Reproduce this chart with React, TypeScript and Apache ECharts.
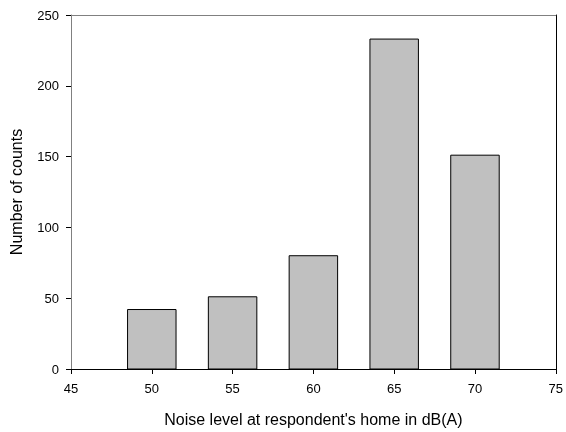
import React, { useEffect, useRef } from "react";
import * as echarts from "echarts";

const binCenters = [50, 55, 60, 65, 70];
const counts = [42, 51, 80, 233, 151];
const binWidth = 3;
const xTicks = [45, 50, 55, 60, 65, 70, 75];
const yTicks = [0, 50, 100, 150, 200, 250];

export default function App() {
  const ref = useRef<HTMLDivElement>(null);
  useEffect(() => {
    if (!ref.current) return;
    const chart = echarts.init(ref.current, undefined, { renderer: "svg" });
    const font = "Liberation Sans, Arial, sans-serif";
    chart.setOption({
      animation: false,
      grid: { left: 71, right: 8, top: 15, bottom: 62 },
      xAxis: [
        {
          type: "value",
          min: xTicks[0],
          max: xTicks[xTicks.length - 1],
          interval: 5,
          position: "bottom",
          name: "Noise level at respondent's home in dB(A)",
          nameLocation: "middle",
          nameGap: 42,
          nameTextStyle: { fontFamily: font, fontSize: 16, color: "#000" },
          axisLine: { show: true, lineStyle: { color: "#000", width: 1 } },
          axisTick: { show: true, inside: false, length: 5, lineStyle: { color: "#000" } },
          axisLabel: { margin: 13, fontFamily: font, fontSize: 13, color: "#000" },
          splitLine: { show: false },
        },
        {
          type: "value",
          min: xTicks[0],
          max: xTicks[xTicks.length - 1],
          position: "top",
          axisLine: { show: true, onZero: false, lineStyle: { color: "#808080", width: 1 } },
          axisTick: { show: false },
          axisLabel: { show: false },
          splitLine: { show: false },
        },
      ],
      yAxis: [
        {
          type: "value",
          min: yTicks[0],
          max: yTicks[yTicks.length - 1],
          interval: 50,
          position: "left",
          name: "Number of counts",
          nameLocation: "middle",
          nameGap: 47,
          nameTextStyle: { fontFamily: font, fontSize: 16, color: "#000" },
          axisLine: { show: true, onZero: false, lineStyle: { color: "#808080", width: 1 } },
          axisTick: { show: true, inside: false, length: 5, lineStyle: { color: "#000" } },
          axisLabel: { margin: 12, fontFamily: font, fontSize: 13, color: "#000" },
          splitLine: { show: false },
        },
        {
          type: "value",
          min: yTicks[0],
          max: yTicks[yTicks.length - 1],
          position: "right",
          axisLine: { show: true, onZero: false, lineStyle: { color: "#000", width: 1 } },
          axisTick: { show: false },
          axisLabel: { show: false },
          splitLine: { show: false },
        },
      ],
      series: [
        {
          type: "custom",
          xAxisIndex: 0,
          yAxisIndex: 0,
          data: binCenters.map((c, i) => [c, counts[i]]),
          renderItem: (params: any, api: any) => {
            const c = api.value(0);
            const v = api.value(1);
            const p0 = api.coord([c - binWidth / 2, v]);
            const p1 = api.coord([c + binWidth / 2, 0]);
            return {
              type: "rect",
              shape: { x: p0[0], y: p0[1], width: p1[0] - p0[0], height: p1[1] - p0[1] },
              style: { fill: "#c0c0c0", stroke: "#000", lineWidth: 1 },
            };
          },
        },
      ],
    });
    return () => chart.dispose();
  }, []);
  return (
    <div
      ref={ref}
      style={{ position: "fixed", left: 0, top: 0, width: 566, height: 432 }}
    />
  );
}
